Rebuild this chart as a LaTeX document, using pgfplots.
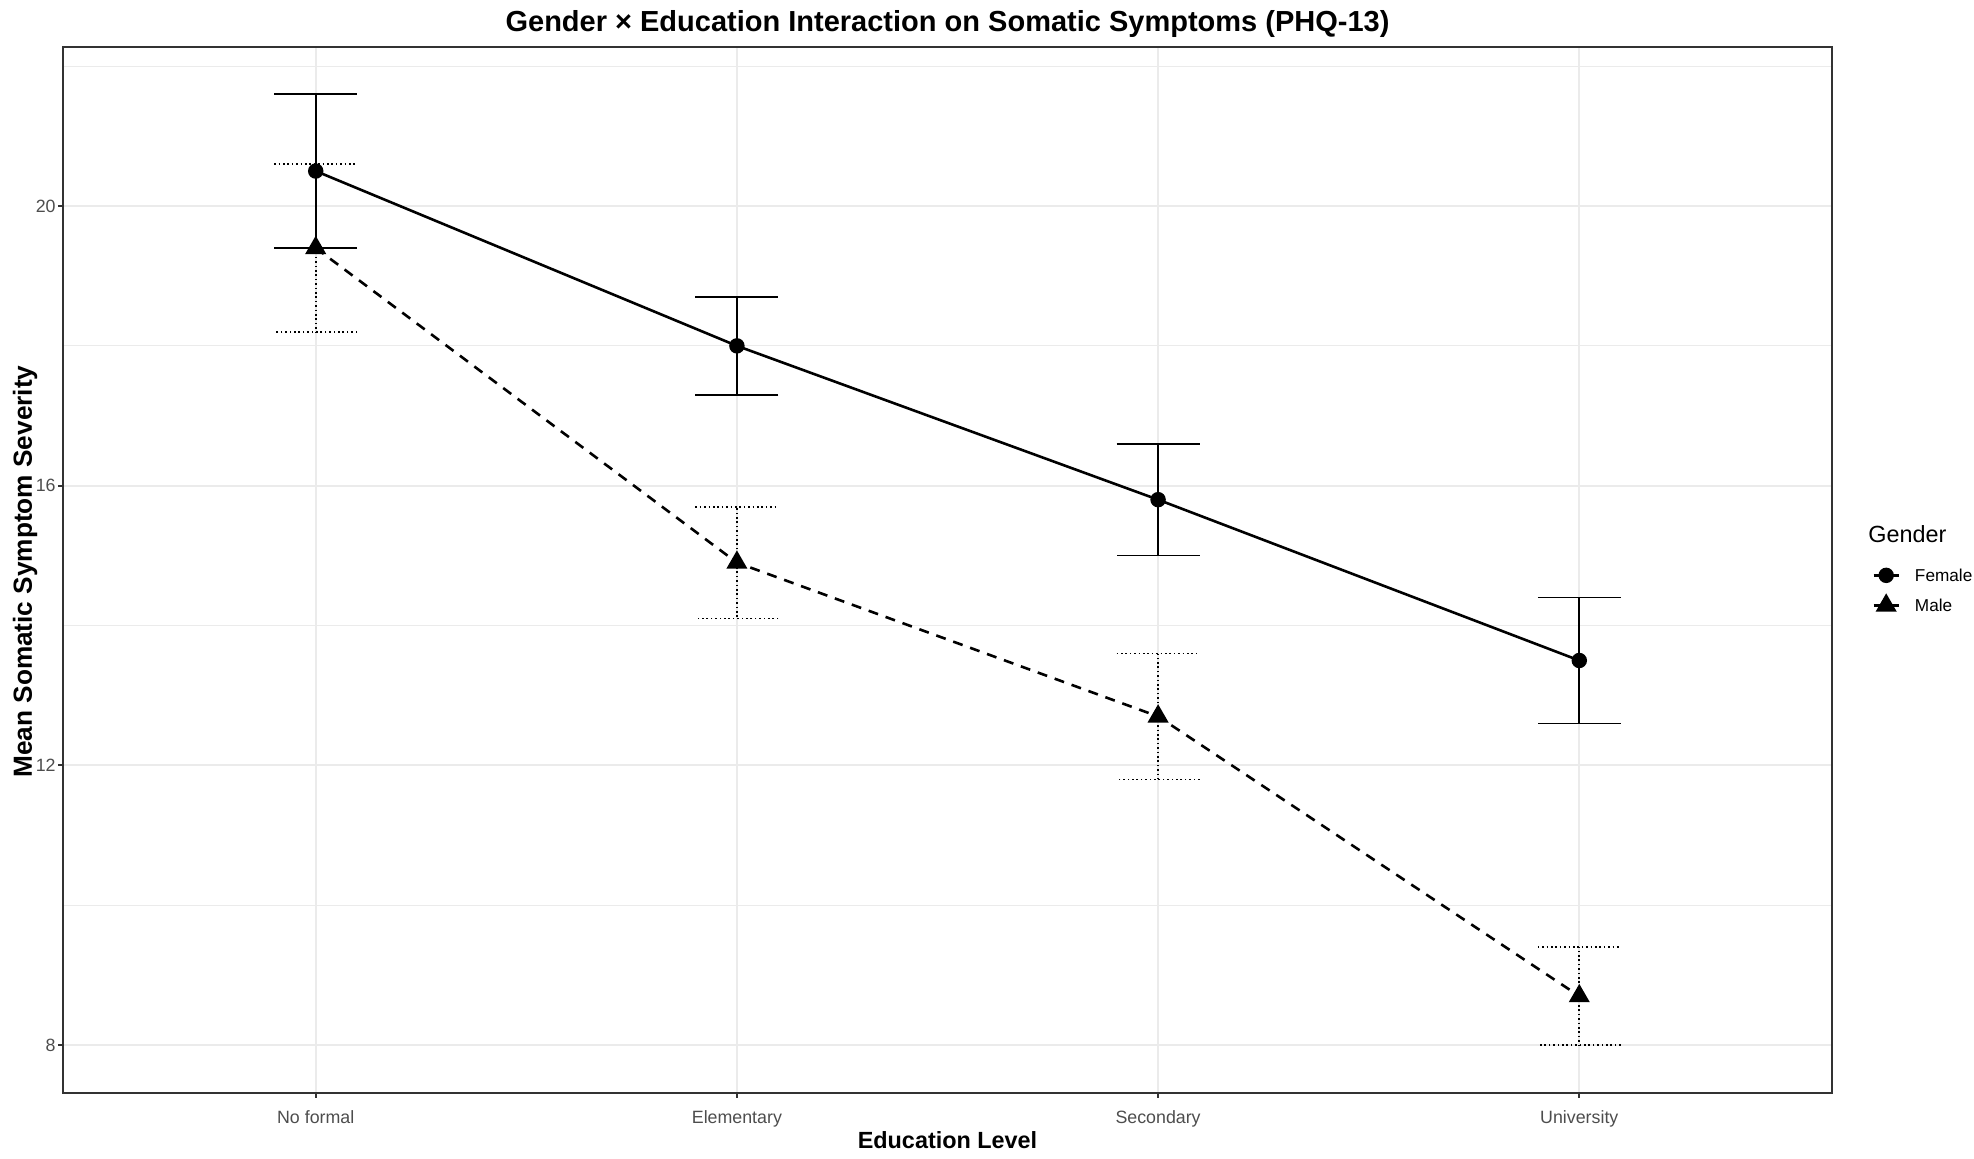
\documentclass[border=0pt]{standalone}
\usepackage{fontspec}
\setmainfont{Liberation Sans}
\usepackage{pgfplots}
\usepackage{pgfplotstable}
\pgfplotsset{compat=1.18}

\definecolor{gridgrey}{HTML}{EBEBEB}
\definecolor{framegrey}{HTML}{333333}
\definecolor{ticktext}{HTML}{4D4D4D}

% category, female mean/se, male mean/se
\pgfplotstableread{
x f   fe  m    me
1 20.5 1.1 19.4 1.2
2 18.0 0.7 14.9 0.8
3 15.8 0.8 12.7 0.9
4 13.5 0.9 8.7  0.7
}\somatic

\begin{document}
\begin{tikzpicture}
\begin{axis}[
    scale only axis,
    width=884.5pt,
    height=523pt,
    xmin=0.4, xmax=4.6,
    ymin=7.32, ymax=22.28,
    xtick={1,2,3,4},
    xticklabels={No formal,Elementary,Secondary,University},
    ytick={8,12,16,20},
    minor ytick={10,14,18,22},
    grid=both,
    major grid style={gridgrey, line width=0.96pt},
    minor grid style={gridgrey, line width=0.48pt},
    axis line style={framegrey, line width=1pt},
    tick pos=left,
    tick align=outside,
    major tick length=2.5pt,
    minor tick length=0pt,
    tick style={framegrey, line width=0.96pt},
    /pgf/number format/assume math mode=true,
    tick label style={font=\fontsize{8.9}{10}\selectfont, text=ticktext},
    yticklabel style={inner sep=0pt, xshift=-1pt},
    xticklabel style={inner sep=0pt, yshift=-6.3pt},
    legend style={
        at={(1.0226,0.501)}, anchor=north west,
        draw=none, fill=none, inner sep=0pt,
        font=\fontsize{8.6}{10}\selectfont,
        row sep=7.1pt, column sep=7.5pt,
        nodes={inner sep=0pt, text height=6.2pt, text depth=0pt},
    },
    legend cell align=left,
    legend image code/.code={
        \draw[mark repeat=2, mark phase=2, #1]
            plot coordinates {(0pt,0pt) (6.25pt,0pt) (12.5pt,0pt)};
    },
]
% error bars first
\addplot[only marks, mark=none, forget plot,
    error bars/.cd, y dir=both, y explicit,
    error bar style={black, line width=0.85pt},
    error mark options={rotate=90, mark size=20.75pt, black, line width=0.85pt}]
    table[x=x, y=f, y error=fe] {\somatic};
\addplot[only marks, mark=none, forget plot,
    error bars/.cd, y dir=both, y explicit,
    error bar style={black, line width=0.85pt, dash pattern=on 0.8pt off 1.4pt},
    error mark options={rotate=90, mark size=20.75pt, black, line width=0.85pt,
        dash pattern=on 0.8pt off 1.4pt}]
    table[x=x, y=m, y error=me] {\somatic};

\addplot[black, line width=1.3pt, mark=*, mark size=3.2pt, mark options={solid}]
    table[x=x, y=f] {\somatic};
\addlegendentry{Female}
\addplot[black, line width=1.3pt, dash pattern=on 5pt off 4pt,
    mark=triangle*, mark size=4.8pt, mark options={solid}]
    table[x=x, y=m] {\somatic};
\addlegendentry{Male}
\end{axis}

\node[anchor=base, font=\fontsize{14.5}{16}\selectfont\bfseries]
    at (442.25pt,530.6pt) {Gender × Education Interaction on Somatic Symptoms (PHQ-13)};
\node[anchor=base, font=\fontsize{11.7}{13}\selectfont\bfseries]
    at (442.25pt,-27.7pt) {Education Level};
\node[anchor=base, rotate=90, font=\fontsize{13.1}{15}\selectfont\bfseries]
    at (-15.5pt,260.5pt) {Mean Somatic Symptom Severity};
\node[anchor=base west, inner sep=0pt, font=\fontsize{11.7}{13}\selectfont]
    at (902.5pt,275.3pt) {Gender};

\pgfresetboundingbox
\path[use as bounding box] (-31.5pt,-32.7pt) rectangle (955.5pt,546.3pt);
\end{tikzpicture}
\end{document}
